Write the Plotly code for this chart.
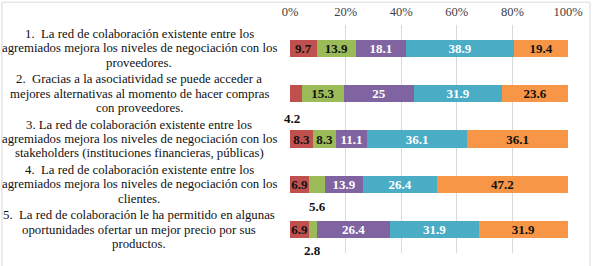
import plotly.graph_objects as go

categories = [
    "1.  La red de colaboración existente entre los<br>agremiados mejora los niveles de negociación con los<br>proveedores.",
    "2.  Gracias a la asociatividad se puede acceder a<br>mejores alternativas al momento de hacer compras<br>con proveedores.",
    "3. La red de colaboración existente entre los<br>agremiados mejora los niveles de negociación con los<br>stakeholders (instituciones financieras, públicas)",
    "4.  La red de colaboración existente entre los<br>agremiados mejora los niveles de negociación con los<br>clientes.",
    "5.  La red de colaboración le ha permitido en algunas<br>oportunidades ofertar un mejor precio por sus<br>productos.",
]
series_names = ["Totalmente en desacuerdo", "En desacuerdo", "Ni de acuerdo ni en desacuerdo",
                "De acuerdo", "Totalmente de acuerdo"]
s1 = [9.7, 4.2, 8.3, 6.9, 6.9]
s2 = [13.9, 15.3, 8.3, 5.6, 2.8]
s3 = [18.1, 25, 11.1, 13.9, 26.4]
s4 = [38.9, 31.9, 36.1, 26.4, 31.9]
s5 = [19.4, 23.6, 36.1, 47.2, 31.9]
series = [s1, s2, s3, s4, s5]
colors = ["#C0504D", "#9BBB59", "#8064A2", "#4BACC6", "#F79646"]
text_colors = ["#111111", "#111111", "#ffffff", "#ffffff", "#111111"]
tick_vals = [0, 20, 40, 60, 80, 100]
tick_text = ["0%", "20%", "40%", "60%", "80%", "100%"]
min_inside = 6.0  # values smaller than this get an outside label

SERIF = "Liberation Serif"

fig = go.Figure()
for name, vals, col, tcol in zip(series_names, series, colors, text_colors):
    txt = [("%g" % v) if v >= min_inside else "" for v in vals]
    fig.add_trace(go.Bar(
        y=categories, x=vals, orientation="h", name=name,
        marker=dict(color=col, line=dict(width=0)),
        text=txt, textposition="inside", insidetextanchor="middle",
        textangle=0, constraintext="none",
        textfont=dict(family=SERIF, size=13, color=tcol, weight="bold"),
        cliponaxis=False,
    ))

# outside labels for small segments with leader lines
offsets = {1: (-4, 25), 3: (1, 22), 4: (-1, 21)}
for i, cat in enumerate(categories):
    cum = 0
    for k, vals in enumerate(series):
        v = vals[i]
        if v < min_inside:
            ax, ay = offsets.get(i, (0, 22))
            fig.add_annotation(
                x=cum + v / 2, y=cat, xref="x", yref="y",
                text="<b>%g</b>" % v, showarrow=True, arrowhead=0,
                arrowwidth=0.8, arrowcolor="#a6a6a6", ax=ax, ay=ay,
                standoff=9, startstandoff=8,
                font=dict(family=SERIF, size=13, color="#111111"),
            )
        cum += v

# category labels, centered, one annotation per line for tight line spacing
line_h = 14.3
for cat in categories:
    lines = cat.split("<br>")
    n = len(lines)
    for j, ln in enumerate(lines):
        fig.add_annotation(
            x=-0.543, y=cat, xref="paper", yref="y", text=ln, showarrow=False,
            xanchor="center", yanchor="middle", align="center",
            yshift=((n - 1) / 2 - j) * line_h,
            font=dict(family=SERIF, size=12.8, color="#111111"),
        )

fig.add_shape(type="rect", xref="paper", yref="paper",
              x0=-1.036, x1=1.079, y0=-0.2, y1=1.1,
              line=dict(color="#d9d9d9", width=1), fillcolor="rgba(0,0,0,0)", layer="below")

fig.update_layout(
    width=594, height=266, barmode="stack", bargap=0.616,
    showlegend=False,
    margin=dict(l=290, r=26, t=25, b=13),
    paper_bgcolor="white", plot_bgcolor="white",
    font=dict(family=SERIF),
    uniformtext=dict(minsize=12, mode="show"),
    xaxis=dict(side="top", range=[0, 100], tickvals=tick_vals, ticktext=tick_text,
               showgrid=True, gridcolor="#d9d9d9", gridwidth=1, zeroline=False,
               showline=False, ticks="", ticklabelstandoff=6, automargin=False,
               tickfont=dict(family=SERIF, size=12.5, color="#404040")),
    yaxis=dict(autorange="reversed", showticklabels=False, showgrid=False,
               zeroline=False, showline=False, ticks="", automargin=False),
)

fig.write_html("out.html")
